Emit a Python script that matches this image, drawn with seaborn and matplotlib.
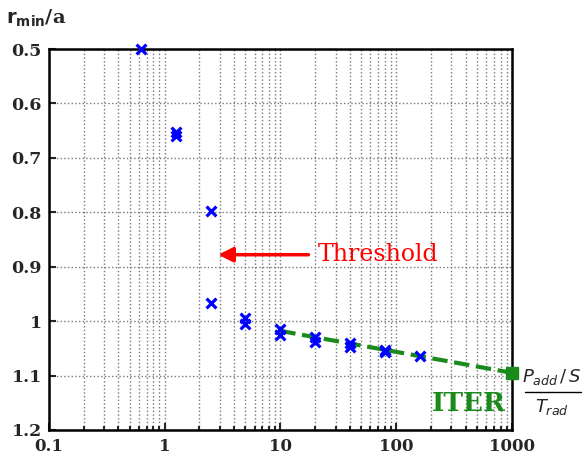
import numpy as np
import pandas as pd
import matplotlib.pyplot as plt
import seaborn as sns

# Data
power_ratio = [0.625, 1.25, 1.25, 2.5, 2.5, 5, 5, 10, 10, 20, 20, 40, 40, 80, 80, 160]
r_min = [0.50, 0.652, 0.660, 0.798, 0.966, 0.995, 1.005, 1.015, 1.025, 1.030, 1.038, 1.041, 1.048, 1.053, 1.057, 1.065]

fit_x = [10, 1000]
fit_y = [1.018, 1.095]

iter_x = [1000]
iter_y = [1.095]

points = pd.DataFrame({'P': power_ratio, 'r': r_min})
fit = pd.DataFrame({'P': fit_x, 'r': fit_y})

sns.set_style('ticks')
plt.rcParams['font.family'] = ['DejaVu Serif']

fig = plt.figure(figsize=(5.87, 4.54), dpi=100)
ax = fig.add_axes([0.083, 0.053, 0.789, 0.839])

ax.set_xscale('log')
sns.lineplot(data=fit, x='P', y='r', ax=ax, color='#1a8a1a', linestyle='--', linewidth=3, dashes=(3, 2))
sns.scatterplot(data=points, x='P', y='r', ax=ax, marker='x', color='#0000ff', s=50, linewidth=2.3, zorder=5, clip_on=False)
ax.plot(iter_x, iter_y, marker='s', color='#1a8a1a', markersize=8, linestyle='none', clip_on=False, zorder=6)

ax.set_xlim(0.1, 1000)
ax.set_ylim(1.2, 0.5)
ax.set_yticks([0.5, 0.6, 0.7, 0.8, 0.9, 1.0, 1.1, 1.2])
ax.set_yticklabels(['0.5', '0.6', '0.7', '0.8', '0.9', '1', '1.1', '1.2'])
ax.set_xticks([0.1, 1, 10, 100, 1000])
ax.set_xticklabels(['0.1', '1', '10', '100', '1000'])
ax.set_xlabel('')
ax.set_ylabel('')

ax.grid(True, which='major', axis='y', color='#777777', linestyle=':', linewidth=1)
ax.grid(True, which='both', axis='x', color='#777777', linestyle=':', linewidth=1)
ax.tick_params(which='both', direction='in', width=1.5)
ax.tick_params(axis='y', labelsize=12.5, pad=5)
ax.tick_params(axis='x', labelsize=12, pad=5.5)
ax.tick_params(which='major', length=5)
ax.tick_params(which='minor', length=3)
for lab in ax.get_xticklabels() + ax.get_yticklabels():
    lab.set_fontweight('bold')
for sp in ax.spines.values():
    sp.set_visible(True)
    sp.set_linewidth(1.8)
    sp.set_color('black')

# annotations
ax.annotate('', xy=(2.75, 0.878), xytext=(18.5, 0.878),
            arrowprops=dict(arrowstyle='-|>', color='red', lw=2.5, mutation_scale=22))
ax.text(21, 0.878, 'Threshold', color='red', fontsize=17, va='center', ha='left')
ax.text(880, 1.152, 'ITER', color='#1a8a1a', fontsize=19, fontweight='bold', va='center', ha='right')

fig.text(0.01, 0.96, r'$\mathbf{r_{min}}$/a', fontsize=14, fontweight='bold', va='center', ha='left')
fig.text(0.94, 0.147, r'$P_{add}\,/\,S$', fontsize=13, ha='center', va='bottom')
fig.add_artist(plt.Line2D([0.895, 0.99], [0.137, 0.137], color='black', lw=1))
fig.text(0.94, 0.125, r'$T_{rad}$', fontsize=13, ha='center', va='top')

fig.savefig('out.png', dpi=100)
